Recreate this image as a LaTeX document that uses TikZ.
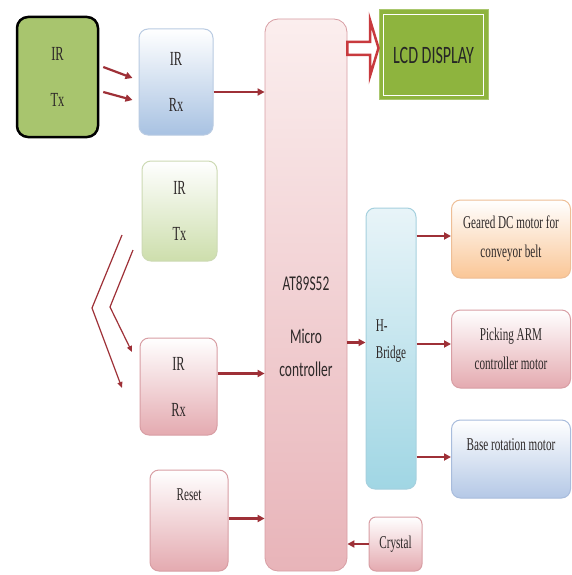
\documentclass[tikz,border=0pt]{standalone}
\usepackage{fontspec}
\setmainfont{Liberation Serif}[FakeStretch=0.62]
\newfontfamily\sansc{Carlito}[FakeStretch=0.64]
\usetikzlibrary{arrows.meta}
\definecolor{arrred}{RGB}{158,48,55}
\definecolor{hollowred}{RGB}{200,58,62}
\definecolor{txgreen}{RGB}{168,197,110}
\definecolor{lcdgreen}{RGB}{142,180,62}
\definecolor{bluebot}{RGB}{168,194,226}
\definecolor{blueborder}{RGB}{185,203,226}
\definecolor{greenbot}{RGB}{205,222,172}
\definecolor{greenborder}{RGB}{205,218,180}
\definecolor{pinkbot}{RGB}{228,170,176}
\definecolor{pinkborder}{RGB}{216,158,164}
\definecolor{mcutop}{RGB}{251,238,238}
\definecolor{mcubot}{RGB}{232,180,185}
\definecolor{hbtop}{RGB}{232,244,248}
\definecolor{hbbot}{RGB}{160,214,228}
\definecolor{hbborder}{RGB}{165,208,222}
\definecolor{orangebot}{RGB}{250,198,150}
\definecolor{orangeborder}{RGB}{238,190,150}
\definecolor{m3bot}{RGB}{180,200,230}
\definecolor{m3border}{RGB}{168,188,220}
\definecolor{txtdark}{RGB}{45,40,40}
\tikzset{
  box/.style={rounded corners=9pt, line width=1pt, inner sep=0pt, text=txtdark},
  twoline/.style={font=\fontsize{20}{46}\selectfont, align=center},
  motortext/.style={font=\fontsize{18}{29}\selectfont, align=center, text=txtdark},
  arr/.style={draw=arrred, line width=2.2pt, -{Triangle[length=7pt,width=7pt]}},
  thinarr/.style={draw=arrred, line width=1.2pt, -{Triangle[length=6pt,width=5pt]}},
}
\begin{document}
\begin{tikzpicture}[x=1pt,y=-1pt]
\useasboundingbox (0,0) rectangle (572,575);
\fill[white] (0,0) rectangle (572,575);

% top IR Tx / Rx
\node[box, twoline, draw=black, line width=2.5pt, rounded corners=11pt, fill=txgreen,
      minimum width=81pt, minimum height=120pt] (tx1) at (57.5,77) {IR\\Tx};
\node[box, twoline, draw=blueborder, top color=white, bottom color=bluebot,
      minimum width=74pt, minimum height=106pt] (rx1) at (176,82) {IR\\Rx};

% microcontroller
\node[box, rounded corners=13pt, draw=pinkborder, line width=0.8pt, top color=mcutop, bottom color=mcubot,
      minimum width=82pt, minimum height=552pt] (mcu) at (306,295) {};
\node[font=\sansc\fontsize{21}{33}\selectfont, align=center, text=txtdark] (mcut) at (306,326)
      {AT89S52\\[20pt]Micro\\controller};

% LCD display
\node[fill=lcdgreen, draw=lcdgreen!75!white, line width=1pt, minimum width=109pt, minimum height=90pt,
      font=\sansc\fontsize{25}{25}\selectfont, text=black!85] (lcd) at (433.5,55) {LCD DISPLAY};
\draw[white, line width=1.8pt] ([shift={(5,5)}]lcd.north west) rectangle ([shift={(-5,-5)}]lcd.south east);
\draw[hollowred, line width=2.5pt, fill=white, line join=miter]
  (mcu.east |- 0,42) -- (370,42) -- (370,20) -- (lcd.west |- 0,48) -- (370,76) -- (370,55) -- (mcu.east |- 0,55) -- cycle;

% middle IR Tx / Rx
\node[box, twoline, draw=greenborder, top color=white, bottom color=greenbot,
      minimum width=75pt, minimum height=100pt] (tx2) at (179.5,211) {IR\\Tx};
\node[box, twoline, draw=pinkborder, top color=white, bottom color=pinkbot,
      minimum width=77pt, minimum height=97pt] (rx2) at (178.5,386.5) {IR\\Rx};
\coordinate (z1a) at (122,235);
\coordinate (z1b) at (92,308);
\coordinate (z1c) at (122,388);
\coordinate (z2a) at (133,250);
\coordinate (z2b) at (110,307);
\coordinate (z2c) at (132,352);
\draw[thinarr] (z1a) -- (z1b) -- (z1c);
\draw[thinarr] (z2a) -- (z2b) -- (z2c);

% reset and crystal
\node[box, draw=pinkborder, top color=white, bottom color=pinkbot,
      minimum width=78pt, minimum height=101pt] (reset) at (189,520.5) {};
\node[font=\fontsize{18}{18}\selectfont, text=txtdark] (resett) at (189,495) {Reset};
\node[box, rounded corners=7pt, draw=pinkborder, top color=white, bottom color=pinkbot,
      minimum width=53pt, minimum height=54pt, font=\fontsize{18}{18}\selectfont] (crystal) at (395.5,544) {Crystal};

% H-Bridge
\node[box, draw=hbborder, top color=hbtop, bottom color=hbbot,
      minimum width=50pt, minimum height=281pt] (hb) at (391,348.5) {};
\node[font=\fontsize{18}{27}\selectfont, align=left, text=txtdark] (hbt) at (391,341) {H-\\Bridge};

% motors
\node[box, motortext, draw=orangeborder, top color=white, bottom color=orangebot,
      minimum width=119pt, minimum height=78pt] (m1) at (511,239) {Geared DC motor for\\conveyor belt};
\node[box, motortext, draw=pinkborder, top color=white, bottom color=pinkbot,
      minimum width=119pt, minimum height=78pt] (m2) at (511,349) {Picking ARM\\controller motor};
\node[box, draw=m3border, top color=white, bottom color=m3bot,
      minimum width=119pt, minimum height=78pt] (m3) at (511,459) {};
\node[motortext] (m3t) at (511,445) {Base rotation motor};

% connectors
\draw[arr] ([shift={(4,-10)}]tx1.east) -- ([shift={(-6,-4)}]rx1.west);
\draw[arr] ([shift={(4,15)}]tx1.east) -- ([shift={(-6,18)}]rx1.west);
\draw[arr] ([yshift=-10pt]rx1.east) -- ([yshift=-10pt]rx1.east -| mcu.west);
\draw[arr] ([yshift=13pt]rx2.east) -- ([yshift=13pt]rx2.east -| mcu.west);
\draw[arr] ([yshift=2pt]reset.east) -- ([yshift=2pt]reset.east -| mcu.west);
\draw[arr] (crystal.west) -- (crystal.west -| mcu.east);
\draw[arr] ([yshift=6pt]hb.west -| mcu.east) -- ([yshift=6pt]hb.west);
\draw[arr] ([yshift=3pt]m1.west -| hb.east) -- ([yshift=3pt]m1.west);
\draw[arr] ([yshift=5pt]m2.west -| hb.east) -- ([yshift=5pt]m2.west);
\draw[arr] ([yshift=2pt]m3.west -| hb.east) -- ([yshift=2pt]m3.west);
\end{tikzpicture}
\end{document}
